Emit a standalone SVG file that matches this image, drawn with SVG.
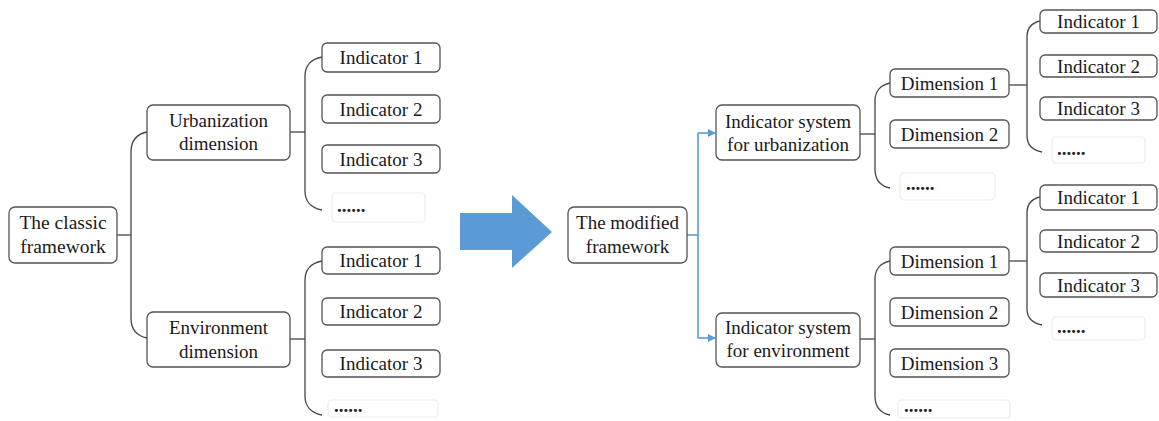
<svg xmlns="http://www.w3.org/2000/svg" width="1159" height="421" viewBox="0 0 1159 421">
<style>
.b{fill:#fff;stroke:#555;stroke-width:1.3}
.d{fill:#fff;stroke:#ebebeb;stroke-width:1.2}
.t{font-family:'Liberation Serif','Times New Roman',serif;font-size:19px;fill:#1a1a1a;text-anchor:middle}
.dots{font-family:'Liberation Serif','Times New Roman',serif;font-size:19px;font-weight:bold;fill:#222}
.c{fill:none;stroke:#444;stroke-width:1.3}
.bl{fill:none;stroke:#5b9bd5;stroke-width:1.6}
</style>
<defs>
<marker id="ah" viewBox="0 0 10 10" refX="9" refY="5" markerWidth="8" markerHeight="8" markerUnits="userSpaceOnUse" orient="auto">
<path d="M0,0 L10,5 L0,10 z" fill="#5b9bd5"/>
</marker>
</defs>
<rect width="1159" height="421" fill="#fff"/>
<g id="connectors">
<path class="c" d="M117,235 H131"/>
<path class="c" d="M147,132 C137,134 131,141 131,152 V318 C131,329 137,336 147,338"/>
<path class="c" d="M290,132 H305"/>
<path class="c" d="M322,57 C311,59 305,66 305,76 V191 C305,201 311,208 322,210"/>
<path class="c" d="M290,339 H305"/>
<path class="c" d="M322,261 C311,263 305,270 305,280 V396 C305,406 311,413 322,415"/>
<path class="bl" d="M687,235 H698"/>
<path class="bl" d="M698,133 V338"/>
<path class="bl" d="M698,133 H715" marker-end="url(#ah)"/>
<path class="bl" d="M698,338 H715" marker-end="url(#ah)"/>
<path class="c" d="M860,134 H875"/>
<path class="c" d="M890,83 C880,85 875,92 875,101 V169 C875,179 880,186 890,188"/>
<path class="c" d="M860,339 H875"/>
<path class="c" d="M890,261 C880,263 875,270 875,279 V396 C875,406 880,413 890,415"/>
<path class="c" d="M1009,85 H1027"/>
<path class="c" d="M1040,21 C1031,23 1027,29 1027,37 V136 C1027,144 1032,150 1042,152"/>
<path class="c" d="M1009,261 H1027"/>
<path class="c" d="M1040,197 C1031,199 1027,205 1027,213 V309 C1027,317 1032,323 1042,325"/>
</g>
<g id="arrow"><polygon points="460,213 512,213 512,195 552,232 512,268 512,250 460,250" fill="#5b9bd5"/></g>
<g id="classic"><rect class="b" x="9" y="207" width="108" height="56" rx="6"/><text class="t" x="63" y="229" style="font-size:19.5px">The classic</text><text class="t" x="63" y="253" style="font-size:19.5px">framework</text></g>
<g id="urbdim"><rect class="b" x="147" y="105" width="143" height="55" rx="6"/><text class="t" x="218.5" y="127">Urbanization</text><text class="t" x="218.5" y="150">dimension</text></g>
<g id="envdim"><rect class="b" x="147" y="312" width="143" height="55" rx="6"/><text class="t" x="218.5" y="334">Environment</text><text class="t" x="218.5" y="358">dimension</text></g>
<g id="lu1"><rect class="b" x="322" y="43" width="118" height="29" rx="5"/><text class="t" x="381" y="64">Indicator 1</text></g>
<g id="lu2"><rect class="b" x="322" y="95" width="118" height="28" rx="5"/><text class="t" x="381" y="115.5">Indicator 2</text></g>
<g id="lu3"><rect class="b" x="322" y="145" width="118" height="28" rx="5"/><text class="t" x="381" y="165.5">Indicator 3</text></g>
<g id="lu4"><rect class="d" x="332" y="193" width="93" height="29" rx="4"/><text class="dots" x="337" y="212">......</text></g>
<g id="le1"><rect class="b" x="322" y="247" width="118" height="27" rx="5"/><text class="t" x="381" y="267">Indicator 1</text></g>
<g id="le2"><rect class="b" x="322" y="298" width="118" height="27" rx="5"/><text class="t" x="381" y="318">Indicator 2</text></g>
<g id="le3"><rect class="b" x="322" y="350" width="118" height="27" rx="5"/><text class="t" x="381" y="370">Indicator 3</text></g>
<g id="le4"><rect class="d" x="328" y="400" width="110" height="17" rx="4"/><text class="dots" x="334" y="412">......</text></g>
<g id="modified"><rect class="b" x="568" y="207" width="119" height="56" rx="6"/><text class="t" x="627.5" y="229">The modified</text><text class="t" x="627.5" y="253">framework</text></g>
<g id="sysurb"><rect class="b" x="716" y="105" width="144" height="55" rx="6"/><text class="t" x="788" y="128">Indicator system</text><text class="t" x="788" y="151">for urbanization</text></g>
<g id="sysenv"><rect class="b" x="716" y="313" width="144" height="54" rx="6"/><text class="t" x="788" y="334">Indicator system</text><text class="t" x="788" y="357">for environment</text></g>
<g id="du1"><rect class="b" x="890" y="69" width="119" height="28" rx="5"/><text class="t" x="949.5" y="89.5">Dimension 1</text></g>
<g id="du2"><rect class="b" x="890" y="120" width="119" height="28" rx="5"/><text class="t" x="949.5" y="140.5">Dimension 2</text></g>
<g id="du3"><rect class="d" x="900" y="173" width="95" height="27" rx="4"/><text class="dots" x="906" y="190">......</text></g>
<g id="de1"><rect class="b" x="890" y="247" width="119" height="28" rx="5"/><text class="t" x="949.5" y="267.5">Dimension 1</text></g>
<g id="de2"><rect class="b" x="890" y="298" width="119" height="28" rx="5"/><text class="t" x="949.5" y="318.5">Dimension 2</text></g>
<g id="de3"><rect class="b" x="890" y="349" width="119" height="28" rx="5"/><text class="t" x="949.5" y="369.5">Dimension 3</text></g>
<g id="de4"><rect class="d" x="898" y="400" width="112" height="18" rx="4"/><text class="dots" x="904" y="412">......</text></g>
<g id="ru1"><rect class="b" x="1040" y="10" width="117" height="23" rx="5"/><text class="t" x="1098.5" y="28">Indicator 1</text></g>
<g id="ru2"><rect class="b" x="1040" y="55" width="117" height="22" rx="5"/><text class="t" x="1098.5" y="72.5">Indicator 2</text></g>
<g id="ru3"><rect class="b" x="1040" y="97" width="117" height="23" rx="5"/><text class="t" x="1098.5" y="115">Indicator 3</text></g>
<g id="ru4"><rect class="d" x="1052" y="137" width="93" height="26" rx="4"/><text class="dots" x="1057" y="155">......</text></g>
<g id="re1"><rect class="b" x="1040" y="185" width="117" height="25" rx="5"/><text class="t" x="1098.5" y="204">Indicator 1</text></g>
<g id="re2"><rect class="b" x="1040" y="230" width="117" height="22" rx="5"/><text class="t" x="1098.5" y="247.5">Indicator 2</text></g>
<g id="re3"><rect class="b" x="1040" y="273" width="117" height="24" rx="5"/><text class="t" x="1098.5" y="291.5">Indicator 3</text></g>
<g id="re4"><rect class="d" x="1052" y="317" width="93" height="23" rx="4"/><text class="dots" x="1057" y="333">......</text></g>
</svg>
